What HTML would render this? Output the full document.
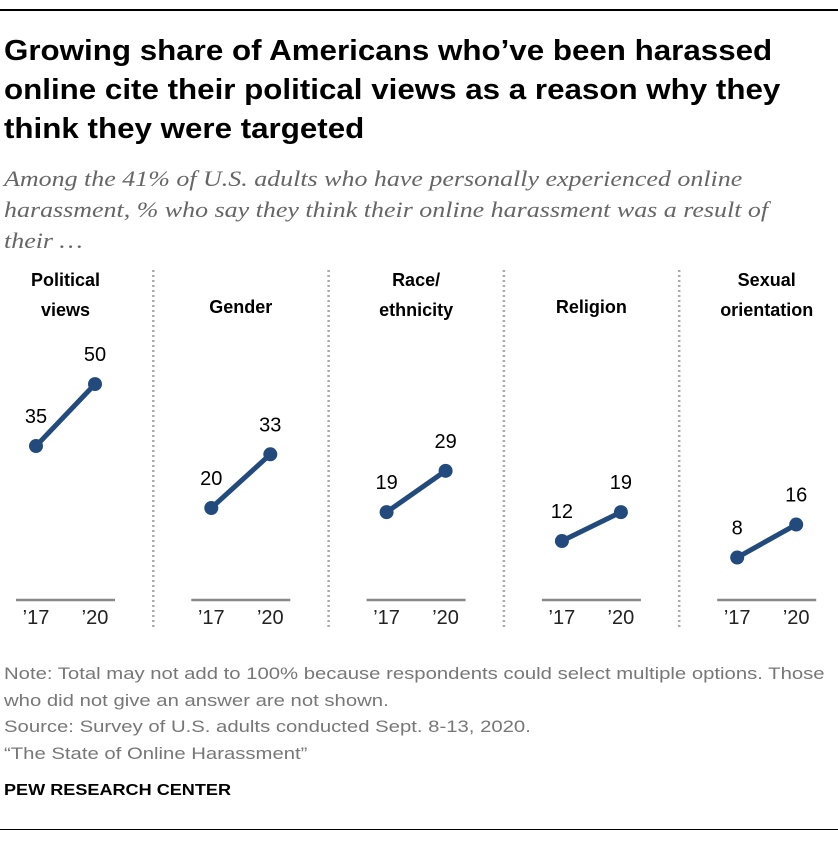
<!DOCTYPE html>
<html><head><meta charset="utf-8"><style>
body{margin:0;background:#fff;width:838px;height:842px;overflow:hidden;position:relative;font-family:"Liberation Sans",sans-serif}
.abs{position:absolute;white-space:nowrap}
.title{left:4px;top:32px;font-weight:bold;font-size:29px;line-height:39px;color:#000;transform:scaleX(1.08);transform-origin:0 0}
.sub{left:4px;top:163px;font-family:"Liberation Serif",serif;font-style:italic;font-size:22px;line-height:31px;color:#666;transform:scaleX(1.18);transform-origin:0 0}
.note{left:4px;font-size:16.5px;color:#777;transform:scaleX(1.23);transform-origin:0 0}
</style></head><body>
<div class="abs" style="left:0;top:9px;width:838px;height:2px;background:#000"></div>
<div class="abs title">Growing share of Americans who’ve been harassed<br>online cite their political views as a reason why they<br>think they were targeted</div>
<div class="abs sub">Among the 41% of U.S. adults who have personally experienced online<br>harassment, % who say they think their online harassment was a result of<br>their …</div>
<svg class="abs" style="left:0;top:0" width="838" height="842" id="chart"></svg>
<div class="abs note" style="top:661px;line-height:26.5px">Note: Total may not add to 100% because respondents could select multiple options. Those<br>who did not give an answer are not shown.<br>Source: Survey of U.S. adults conducted Sept. 8-13, 2020.<br>“The State of Online Harassment”</div>
<div class="abs" style="left:4px;top:782px;font-size:16px;font-weight:bold;color:#000;transform:scaleX(1.13);transform-origin:0 0">PEW RESEARCH CENTER</div>
<div class="abs" style="left:0;top:829px;width:838px;height:1px;background:#000"></div>
<script>
const categories=[["Political","views"],["Gender"],["Race/","ethnicity"],["Religion"],["Sexual","orientation"]];
const years=["’17","’20"];
const v2017=[35,20,19,12,8];
const v2020=[50,33,29,19,16];
const svg=document.getElementById('chart');
const NS='http://www.w3.org/2000/svg';
function y(v){return 590.6-4.13*v;}
function panelX(i){return 36+i*175.3;}
function mk(tag,attrs,txt){const e=document.createElementNS(NS,tag);for(const k in attrs)e.setAttribute(k,attrs[k]);if(txt!==undefined)e.textContent=txt;svg.appendChild(e);return e;}
categories.forEach((cat,i)=>{
  const x0=panelX(i),x1=x0+59,cx=(x0+x1)/2;
  if(i>0){const s=mk('line',{x1:x0-58,x2:x0-58,y1:270,y2:630,stroke:'#aaa','stroke-width':2.5,'stroke-dasharray':'2 3'});
    
    }
  const lines=cat;
  lines.forEach((l,j)=>{
    const ty=lines.length===2?(286+j*30):313;
    const t=mk('text',{x:cx,y:ty,'text-anchor':'middle','font-size':18,'font-weight':'bold',fill:'#000'},l);
    
    
  });
  const b=mk('line',{x1:x0-20,x2:x1+20,y1:600,y2:600,stroke:'#888','stroke-width':2.5});
  
  
  years.forEach((yr,j)=>{
    const t=mk('text',{x:j?x1:x0,y:624,'text-anchor':'middle','font-size':20,fill:'#222'},yr);
    
    
  });
  const ln=mk('line',{x1:x0,y1:y(v2017[i]),x2:x1,y2:y(v2020[i]),stroke:'#234a7c','stroke-width':5});
  
  
  [[x0,v2017[i]],[x1,v2020[i]]].forEach(([px,v],j)=>{
    const c=mk('circle',{cx:px,cy:y(v),r:7,fill:'#234a7c'});
    
    
    const t=mk('text',{x:px,y:y(v)-23,'text-anchor':'middle','font-size':20,fill:'#000'},v);
    
    
  });
});
</script>
</body></html>
